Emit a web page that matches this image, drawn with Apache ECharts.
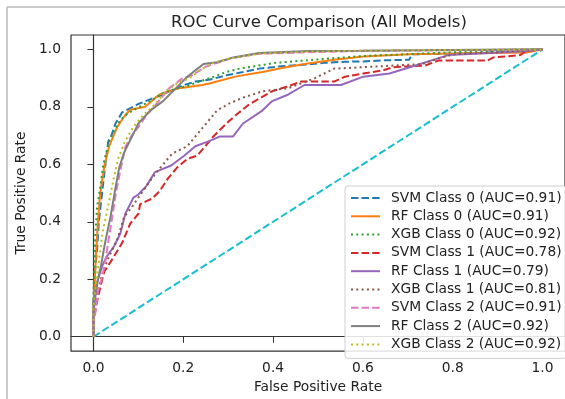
<!DOCTYPE html>
<html><head><meta charset="utf-8">
<script src="https://cdn.jsdelivr.net/npm/echarts@6/dist/echarts.min.js"></script>
<style>html,body{margin:0;padding:0;background:#fff}#c{width:565px;height:399px}</style>
</head><body><div id="c"></div>
<script>
const titleText = 'ROC Curve Comparison (All Models)';
const xTicks = [0, 0.2, 0.4, 0.6, 0.8, 1.0];
const yTicks = [0, 0.2, 0.4, 0.6, 0.8, 1.0];
const names = ['SVM Class 0 (AUC=0.91)','RF Class 0 (AUC=0.91)','XGB Class 0 (AUC=0.92)','SVM Class 1 (AUC=0.78)','RF Class 1 (AUC=0.79)','XGB Class 1 (AUC=0.81)','SVM Class 2 (AUC=0.91)','RF Class 2 (AUC=0.92)','XGB Class 2 (AUC=0.92)'];
const svm0 = [[0,0],[0,0.12],[0.003,0.22],[0.008,0.3],[0.012,0.4],[0.017,0.47],[0.025,0.58],[0.033,0.68],[0.04,0.7],[0.049,0.742],[0.064,0.781],[0.078,0.792],[0.1,0.81],[0.126,0.826],[0.15,0.84],[0.169,0.854],[0.2,0.875],[0.227,0.888],[0.26,0.895],[0.296,0.91],[0.33,0.92],[0.369,0.933],[0.41,0.94],[0.442,0.944],[0.48,0.948],[0.514,0.953],[0.56,0.957],[0.601,0.958],[0.65,0.962],[0.703,0.964],[0.71,0.983],[0.8,0.985],[0.9,0.99],[0.96,0.993],[1,1]];
const rf0 = [[0,0],[0,0.1],[0.003,0.2],[0.006,0.3],[0.01,0.4],[0.015,0.5],[0.025,0.6],[0.035,0.663],[0.053,0.73],[0.07,0.77],[0.082,0.79],[0.115,0.8],[0.13,0.82],[0.147,0.843],[0.17,0.855],[0.191,0.865],[0.242,0.876],[0.26,0.882],[0.318,0.906],[0.376,0.921],[0.42,0.935],[0.47,0.949],[0.536,0.964],[0.601,0.975],[0.703,0.983],[0.8,0.986],[0.964,0.989],[1,1]];
const xgb0 = [[0,0],[0,0.12],[0.002,0.25],[0.004,0.35],[0.008,0.45],[0.015,0.52],[0.022,0.6],[0.035,0.68],[0.047,0.72],[0.06,0.754],[0.075,0.775],[0.093,0.792],[0.126,0.82],[0.162,0.854],[0.205,0.871],[0.25,0.895],[0.296,0.921],[0.325,0.933],[0.405,0.953],[0.5,0.965],[0.601,0.977],[0.7,0.983],[0.8,0.99],[0.9,0.995],[1,1]];
const svm1 = [[0,0],[0,0.05],[0.005,0.1],[0.01,0.136],[0.018,0.19],[0.024,0.226],[0.042,0.27],[0.064,0.327],[0.082,0.394],[0.1,0.428],[0.104,0.461],[0.118,0.472],[0.13,0.48],[0.147,0.506],[0.166,0.551],[0.187,0.59],[0.209,0.619],[0.231,0.63],[0.249,0.663],[0.267,0.697],[0.296,0.742],[0.32,0.775],[0.347,0.809],[0.398,0.854],[0.43,0.87],[0.463,0.888],[0.536,0.888],[0.56,0.905],[0.601,0.916],[0.645,0.927],[0.667,0.938],[0.739,0.944],[0.768,0.961],[0.877,0.961],[0.891,0.972],[0.95,0.98],[0.964,0.994],[1,1]];
const rf1 = [[0,0],[0,0.08],[0.005,0.15],[0.01,0.2],[0.02,0.248],[0.03,0.28],[0.046,0.315],[0.06,0.36],[0.071,0.428],[0.089,0.484],[0.1,0.495],[0.118,0.525],[0.137,0.573],[0.173,0.596],[0.202,0.63],[0.227,0.663],[0.256,0.68],[0.282,0.697],[0.311,0.697],[0.333,0.742],[0.376,0.787],[0.398,0.82],[0.434,0.843],[0.47,0.876],[0.551,0.876],[0.601,0.905],[0.659,0.916],[0.717,0.944],[0.79,0.98],[0.885,0.987],[0.964,0.994],[1,1]];
const xgb1 = [[0,0],[0,0.06],[0.008,0.15],[0.02,0.22],[0.035,0.28],[0.053,0.338],[0.068,0.416],[0.085,0.45],[0.1,0.484],[0.125,0.54],[0.147,0.585],[0.176,0.638],[0.209,0.663],[0.227,0.697],[0.25,0.74],[0.275,0.787],[0.3,0.81],[0.333,0.832],[0.376,0.854],[0.434,0.865],[0.492,0.899],[0.536,0.933],[0.601,0.938],[0.732,0.949],[0.776,0.972],[0.805,0.983],[0.9,0.99],[1,1]];
const svm2 = [[0,0],[0,0.05],[0.004,0.08],[0.01,0.158],[0.018,0.2],[0.025,0.249],[0.033,0.33],[0.042,0.418],[0.05,0.5],[0.06,0.58],[0.071,0.66],[0.085,0.7],[0.1,0.73],[0.115,0.764],[0.14,0.81],[0.169,0.865],[0.198,0.899],[0.22,0.91],[0.25,0.94],[0.28,0.955],[0.31,0.97],[0.37,0.985],[0.48,0.99],[0.6,0.995],[0.8,0.997],[1,1]];
const rf2 = [[0,0],[0,0.12],[0.005,0.17],[0.01,0.2],[0.017,0.249],[0.025,0.32],[0.038,0.418],[0.047,0.5],[0.057,0.586],[0.068,0.64],[0.075,0.663],[0.087,0.7],[0.1,0.742],[0.126,0.787],[0.155,0.82],[0.184,0.865],[0.205,0.899],[0.227,0.927],[0.245,0.949],[0.275,0.955],[0.311,0.972],[0.369,0.987],[0.478,0.994],[0.601,0.995],[0.8,0.998],[1,1]];
const xgb2 = [[0,0],[0,0.1],[0.006,0.19],[0.012,0.26],[0.02,0.36],[0.028,0.42],[0.035,0.472],[0.045,0.55],[0.055,0.62],[0.07,0.68],[0.089,0.73],[0.11,0.77],[0.137,0.809],[0.165,0.86],[0.19,0.885],[0.213,0.899],[0.24,0.93],[0.27,0.955],[0.31,0.97],[0.37,0.985],[0.48,0.992],[0.6,0.996],[0.8,0.998],[1,1]];
const chance = [[0,0],[1,1]];

const dataSets = [svm0, rf0, xgb0, svm1, rf1, xgb1, svm2, rf2, xgb2];
const colors = ['#1f77b4','#ff7f0e','#2ca02c','#d62728','#9467bd','#8c564b','#e377c2','#7f7f7f','#bcbd22'];
const dashed = [7.4, 3.2], dotted = [2, 3.3];
const styles = [dashed,'solid',dotted,dashed,'solid',dotted,dashed,'solid',dotted];
const FONT = 'DejaVu Sans';
const TXT = '#222';

const series = dataSets.map((d, i) => ({
  name: names[i], type: 'line', data: d, symbol: 'none', showSymbol: false,
  animation: false, z: 3,
  lineStyle: { color: colors[i], width: 2, type: styles[i], cap: 'butt' },
  itemStyle: { color: colors[i] }
}));
series.push({
  name: 'chance', type: 'line', data: chance, symbol: 'none', animation: false, z: 2,
  lineStyle: { color: '#17becf', width: 2, type: dashed, cap: 'butt' }
});

const chart = echarts.init(document.getElementById('c'), null, { renderer: 'canvas' });
chart.setOption({
  backgroundColor: '#fff',
  animation: false,
  title: { text: titleText, left: 171, top: 14, padding: 0,
    textStyle: { fontFamily: FONT, fontSize: 16.5, fontWeight: 'normal', color: TXT } },
  grid: { left: 71, top: 35, width: 505, height: 327, show: true, borderColor: '#333', borderWidth: 1.2, backgroundColor: 'transparent' },
  xAxis: { type: 'value', min: -0.05, max: 1.05,
    name: 'False Positive Rate', nameLocation: 'middle', nameGap: 23,
    nameTextStyle: { fontFamily: FONT, fontSize: 13.8, color: TXT },
    axisLine: { show: true, lineStyle: { color: '#333', width: 1.2 } },
    axisTick: { show: true, length: 6, customValues: xTicks, lineStyle: { color: '#333' } },
    axisLabel: { customValues: xTicks, margin: 10, fontFamily: FONT, fontSize: 13.8, color: TXT,
      formatter: v => v.toFixed(1) },
    splitLine: { show: false } },
  yAxis: { type: 'value', min: -0.05, max: 1.05,
    name: 'True Positive Rate', nameLocation: 'middle', nameGap: 39, nameRotate: 90,
    nameTextStyle: { fontFamily: FONT, fontSize: 13.8, color: TXT },
    axisLine: { show: true, lineStyle: { color: '#333', width: 1.2 } },
    axisTick: { show: true, length: 6, customValues: yTicks, lineStyle: { color: '#333' } },
    axisLabel: { customValues: yTicks, margin: 10, fontFamily: FONT, fontSize: 13.8, color: TXT,
      formatter: v => v.toFixed(1) },
    splitLine: { show: false } },
  legend: {
    data: names, orient: 'vertical', left: 345, top: 186,
    padding: [4, 5, 6, 5], itemGap: 2.3, itemWidth: 29, itemHeight: 14,
    itemStyle: { opacity: 0 },
    backgroundColor: 'rgba(255,255,255,0.85)', borderColor: '#d0d0d0', borderWidth: 1, borderRadius: 3,
    textStyle: { fontFamily: FONT, fontSize: 13.8, color: TXT, lineHeight: 16, padding: [0, 0, 0, 6] },
    selectedMode: false
  },
  graphic: [
    { type: 'line', shape: { x1: 7, y1: 7, x2: 7, y2: 399 }, style: { stroke: '#bbb', lineWidth: 1.5 }, silent: true },
    { type: 'line', shape: { x1: 7, y1: 7, x2: 565, y2: 7 }, style: { stroke: '#bbb', lineWidth: 1.5 }, silent: true }
  ],
  series: series
});
</script></body></html>
